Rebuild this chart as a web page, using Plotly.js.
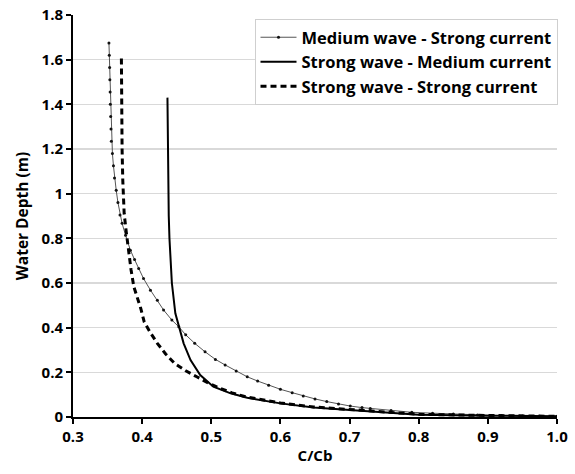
<!DOCTYPE html>
<html>
<head>
<meta charset="utf-8">
<script src="https://cdn.plot.ly/plotly-3.0.1.min.js"></script>
<style>
html,body{margin:0;padding:0;background:#fff;}
#chart{width:575px;height:474px;}
</style>
</head>
<body>
<div id="chart"></div>
<script>
// Medium wave - Strong current
const medX = [0.352,0.3525,0.353,0.3533,0.3537,0.354,0.3545,0.355,0.3555,0.357,0.3585,0.3600,0.3625,0.365,0.368,0.371,0.376,0.383,0.389,0.395,0.402,0.412,0.422,0.431,0.443,0.453,0.463,0.476,0.491,0.506,0.520,0.536,0.552,0.567,0.583,0.600,0.617,0.633,0.650,0.667,0.684,0.701,0.718,0.730,0.760,0.790,0.820,0.850,0.885,0.920,0.950,0.975,1.0];
const medY = [1.675,1.62,1.565,1.51,1.455,1.40,1.345,1.29,1.235,1.18,1.125,1.07,1.015,0.96,0.905,0.867,0.814,0.747,0.705,0.665,0.62,0.568,0.523,0.479,0.434,0.404,0.368,0.330,0.292,0.258,0.233,0.206,0.180,0.161,0.142,0.124,0.109,0.094,0.081,0.069,0.058,0.049,0.042,0.038,0.029,0.021,0.017,0.013,0.009,0.006,0.004,0.003,0.003];

// Strong wave - Medium current
const swmcX = [0.4366,0.4370,0.4376,0.4385,0.4395,0.4410,0.443,0.448,0.453,0.460,0.470,0.484,0.503,0.528,0.552,0.600,0.648,0.700,0.750,0.800,0.900,1.0];
const swmcY = [1.43,1.2,1.06,0.9,0.8,0.7,0.6,0.464,0.404,0.33,0.255,0.188,0.136,0.106,0.086,0.061,0.043,0.031,0.019,0.010,0.006,0.003];

// Strong wave - Strong current
const swscX = [0.370,0.370,0.371,0.372,0.374,0.377,0.381,0.384,0.388,0.393,0.398,0.403,0.411,0.422,0.434,0.447,0.463,0.479,0.494,0.513,0.530,0.550,0.600,0.648,0.700,0.750,0.800,0.900,1.0];
const swscY = [1.605,1.4,1.2,1.06,0.911,0.829,0.717,0.658,0.583,0.538,0.486,0.426,0.382,0.330,0.282,0.240,0.207,0.180,0.155,0.128,0.108,0.090,0.063,0.045,0.033,0.022,0.012,0.007,0.003];

const seriesNames = ["Medium wave - Strong current","Strong wave - Medium current","Strong wave - Strong current"];
const xTickVals = [0.3,0.4,0.5,0.6,0.7,0.8,0.9,1.0];
const xTickText = ["0.3","0.4","0.5","0.6","0.7","0.8","0.9","1.0"];
const yTickVals = [0,0.2,0.4,0.6,0.8,1,1.2,1.4,1.6,1.8];
const yTickText = ["0","0.2","0.4","0.6","0.8","1","1.2","1.4","1.6","1.8"];

const FONT = "'Open Sans', 'DejaVu Sans', sans-serif";

const traces = [
  {x: medX, y: medY, name: seriesNames[0], mode: "lines+markers",
   line: {color: "#555", width: 1}, marker: {color: "#111", size: 3}},
  {x: swmcX, y: swmcY, name: seriesNames[1], mode: "lines",
   line: {color: "#000", width: 2}},
  {x: swscX, y: swscY, name: seriesNames[2], mode: "lines",
   line: {color: "#000", width: 3, dash: "6px,4px"}}
];

const layout = {
  width: 575, height: 474,
  margin: {l: 72.5, r: 18, t: 14.7, b: 57},
  paper_bgcolor: "#fff", plot_bgcolor: "#fff",
  font: {family: FONT, color: "#000"},
  showlegend: true,
  legend: {
    x: 0.375, y: 0.99, xanchor: "left", yanchor: "top",
    bgcolor: "#fff", bordercolor: "#cfcfcf", borderwidth: 1,
    font: {family: FONT, size: 16.5, color: "#000", weight: 700},
    itemwidth: 36,
    tracegroupgap: 0
  },
  xaxis: {
    range: [0.3, 1.0], tickvals: xTickVals, ticktext: xTickText,
    showline: true, linecolor: "#000", linewidth: 2,
    ticks: "outside", ticklen: 5, tickwidth: 2, tickcolor: "#000",
    showgrid: false, zeroline: false,
    tickfont: {family: FONT, size: 15, color: "#000", weight: 700},
    title: {text: "C/Cb", font: {family: FONT, size: 15, color: "#000", weight: 700}, standoff: 5}
  },
  yaxis: {
    range: [0, 1.8], tickvals: yTickVals, ticktext: yTickText,
    showline: true, linecolor: "#000", linewidth: 2,
    ticks: "outside", ticklen: 5, tickwidth: 2, tickcolor: "#000",
    showgrid: true, gridcolor: "#d9d9d9", gridwidth: 1.5, zeroline: false,
    tickfont: {family: FONT, size: 15, color: "#000", weight: 700},
    title: {text: "Water Depth (m)", font: {family: FONT, size: 15.5, color: "#000", weight: 700}, standoff: 9}
  }
};

Plotly.newPlot("chart", traces, layout, {displayModeBar: false, staticPlot: true});
</script>
</body>
</html>
